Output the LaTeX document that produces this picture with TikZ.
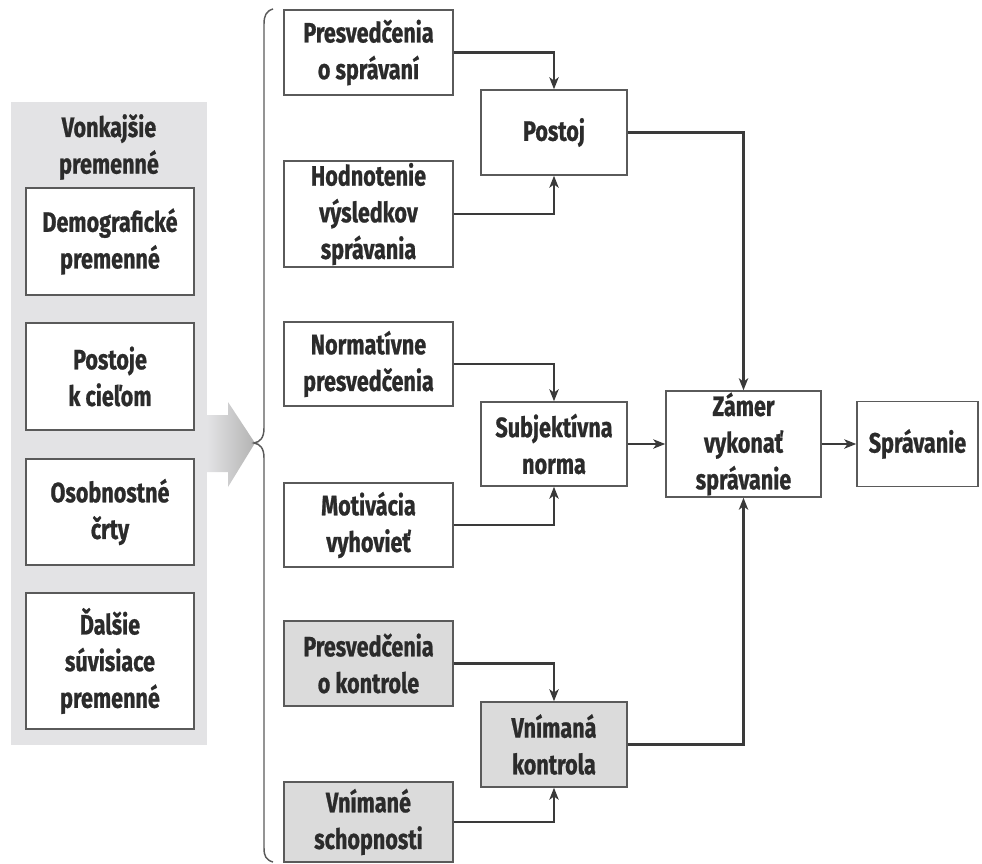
\documentclass[tikz,border=0pt]{standalone}
\usepackage{fontspec}
\setmainfont{Fira Sans}[FakeStretch=0.77, BoldFeatures={FakeBold=0.8}]
\usetikzlibrary{arrows.meta}
\definecolor{inkc}{HTML}{2B2B2B}
\definecolor{linec}{HTML}{3A3A3A}
\definecolor{framec}{HTML}{5A5A5A}
\definecolor{panelc}{HTML}{E3E3E5}
\definecolor{shadec}{HTML}{DBDBDB}
\begin{document}
\begin{tikzpicture}[x=0.75pt,y=-0.75pt,
  txt/.style={font=\fontsize{21}{27.5}\selectfont\bfseries, text=inkc, align=center, inner sep=0pt},
  box/.style={txt, draw=framec, line width=1.1pt, fill=white},
  gbox/.style={box, fill=shadec},
  arr/.style={draw=linec, line width=1.6pt, -{Stealth[length=9pt,width=7pt,inset=2.5pt]}},
  bw/.style={minimum width=#1*0.75pt},
  bh/.style={minimum height=#1*0.75pt}]
\useasboundingbox (0,0) rectangle (982,864);

% outer panel of external variables
\node[fill=panelc, bw=196, bh=643, inner sep=0pt] (panel) at (109,423.5) {};
\node[txt] (paneltitle) at (109,147) {Vonkajšie\\premenné};
\node[box, bw=168, bh=107] (demo) at (110,241.5) {Demografické\\premenné};
\node[box, bw=168, bh=107] (ciele) at (110,376.5) {Postoje\\k cieľom};
\node[box, bw=168, bh=106] (crty) at (110,512) {Osobnostné\\črty};
\node[box, bw=168, bh=136] (dalsie) at (110,661) {Ďalšie\\súvisiace\\premenné};

% shaded block arrow
\shade[left color=panelc, right color=gray!60, shading angle=90]
  (207,415) -- (228,415) -- (228,402) -- (255,443) -- (228,487) -- (228,472) -- (207,472) -- cycle;

% brace
\draw[framec, line width=1.1pt]
  (273,9) .. controls (266,11) and (264,16) .. (264,24)
  -- (264,428) .. controls (264,438) and (260,442) .. (254,443)
  .. controls (260,444) and (264,448) .. (264,458)
  -- (264,848) .. controls (264,856) and (266,860) .. (273,862);

% belief boxes
\node[box, bw=169, bh=85] (b1) at (368.5,52.5) {Presvedčenia\\o správaní};
\node[box, bw=169, bh=106] (b2) at (368.5,214) {Hodnotenie\\výsledkov\\správania};
\node[box, bw=169, bh=84] (b3) at (368.5,364) {Normatívne\\presvedčenia};
\node[box, bw=169, bh=84] (b4) at (368.5,525) {Motivácia\\vyhovieť};
\node[gbox, bw=169, bh=85] (b5) at (368.5,663.5) {Presvedčenia\\o kontrole};
\node[gbox, bw=169, bh=80] (b6) at (368.5,822) {Vnímané\\schopnosti};

% constructs
\node[box, bw=146, bh=85] (postoj) at (554,132.5) {Postoj};
\node[box, bw=146, bh=84] (norma) at (554,444) {Subjektívna\\norma};
\node[gbox, bw=146, bh=85] (kontrola) at (554,744.5) {Vnímaná\\kontrola};
\node[box, bw=155, bh=106] (zamer) at (743.5,444) {Zámer\\vykonať\\správanie};
\node[box, bw=121, bh=85] (sprav) at (917.5,444) {Správanie};

% connectors
\draw[arr] (b1.east) -| (postoj.north);
\draw[arr] (b2.east) -| (postoj.south);
\draw[arr] (b3.east) -| (norma.north);
\draw[arr] (b4.east) -| (norma.south);
\draw[arr] (b5.east) -| (kontrola.north);
\draw[arr] (b6.east) -| (kontrola.south);
\draw[arr] (postoj.east) -| (zamer.north);
\draw[arr] (kontrola.east) -| (zamer.south);
\draw[arr] (norma.east) -- (zamer.west);
\draw[arr] (zamer.east) -- (sprav.west);
\end{tikzpicture}
\end{document}
